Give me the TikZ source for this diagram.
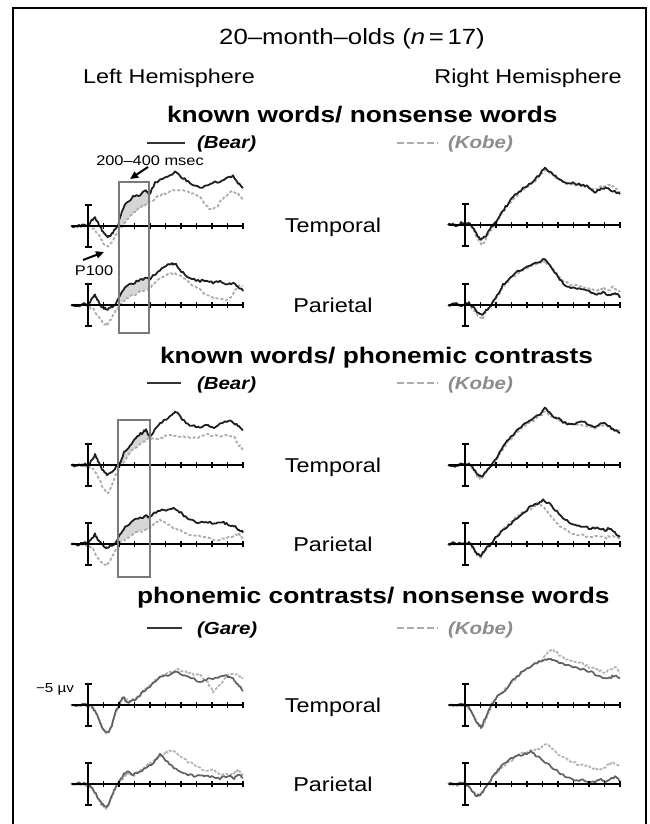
\documentclass[tikz,border=0pt]{standalone}
\usepackage{fontspec}
\setmainfont[FakeStretch=1.17]{Liberation Sans}
\usetikzlibrary{arrows.meta}
\pgfmathsetseed{4242}
\tikzset{
  blk/.style={draw=black!88,line width=1.8pt,line join=round},
  gdash/.style={draw=black!32,line width=1.8pt,line join=round,dash pattern=on 3pt off 2pt},
  gsolid/.style={draw=black!62,line width=1.7pt,line join=round},
  gdashb/.style={draw=black!30,line width=1.7pt,line join=round,dash pattern=on 3pt off 1.5pt},
  shadearea/.style={fill=black!16,draw=none},
  baseln/.style={draw=black,line width=2.2pt},
  tickm/.style={draw=black,line width=1.8pt},
  vbar/.style={draw=black,line width=2pt},
  winbox/.style={draw=black!52,line width=1.5pt},
  frame/.style={draw=black,line width=2pt},
  legsolid/.style={draw=black!80,line width=1.8pt},
  legdash/.style={draw=black!32,line width=1.8pt,dash pattern=on 7pt off 3pt},
  ptr/.style={draw=black,line width=2pt,-{Triangle[length=8pt,width=7pt]}},
  txt/.style={inner sep=0pt,outer sep=0pt},
}
\newcommand{\erpaxes}{%
  \draw[baseln] (-16,0) -- (155,0);
  \foreach \k in {1,...,10} \draw[tickm] ({15.5*\k},-2.8) -- ({15.5*\k},2.8);
  \draw[vbar] (0,-21) -- (0,21);
  \draw[vbar] (-3.5,-21) -- (3.5,-21) (-3.5,21) -- (3.5,21);
}
\newcommand{\erptrace}[2]{%
  \draw[#1] (-17,0)
    \foreach \ex/\ey [remember=\ex as \px (initially -17), remember=\ey as \py (initially 0)] in {#2} {
      \foreach \es in {0.25,0.5,0.75,1} { -- ({(\px)+((\ex)-(\px))*\es},{(\py)+((\ey)-(\py))*\es+1.2*rand}) }
    };
}
\begin{document}
\begin{tikzpicture}[x=1pt,y=-1pt]
\useasboundingbox (0,0) rectangle (649,824);
\fill[white] (0,0) rectangle (649,824);
\draw[frame] (13,824) -- (13,8) -- (646,8) -- (646,824);

% ---------- texts ----------
\node[txt,anchor=base] (title) at (352,45) {\fontsize{22}{26}\selectfont 20–month–olds (\textit{n}\,=\,17)};
\node[txt,anchor=base] (lefthem) at (169,84) {\fontsize{20}{24}\selectfont Left Hemisphere};
\node[txt,anchor=base] (righthem) at (528,84) {\fontsize{20}{24}\selectfont Right Hemisphere};

\node[txt,anchor=base west] (head1) at (167,122) {\fontsize{22.5}{26}\selectfont\bfseries known words/ nonsense words};
\node[txt,anchor=base west] (head2) at (160,363) {\fontsize{22.5}{26}\selectfont\bfseries known words/ phonemic contrasts};
\node[txt,anchor=base west] (head3) at (137,603) {\fontsize{22.5}{26}\selectfont\bfseries phonemic contrasts/ nonsense words};

% legends
\coordinate (la1) at (147,143); \coordinate (lb1) at (185,143);
\coordinate (da1) at (397,143); \coordinate (db1) at (438,143);
\draw[legsolid] (la1) -- (lb1);
\draw[legdash] (da1) -- (db1);
\node[txt,anchor=base west] (bear1) at (197,149) {\fontsize{17.5}{20}\selectfont\bfseries\itshape (Bear)};
\node[txt,anchor=base west,text=black!45] (kobe1) at (448,149) {\fontsize{17.5}{20}\selectfont\bfseries\itshape (Kobe)};

\coordinate (la2) at (147,383); \coordinate (lb2) at (181,383);
\coordinate (da2) at (397,383); \coordinate (db2) at (438,383);
\draw[legsolid] (la2) -- (lb2);
\draw[legdash] (da2) -- (db2);
\node[txt,anchor=base west] (bear2) at (197,389) {\fontsize{17.5}{20}\selectfont\bfseries\itshape (Bear)};
\node[txt,anchor=base west,text=black!45] (kobe2) at (448,389) {\fontsize{17.5}{20}\selectfont\bfseries\itshape (Kobe)};

\coordinate (la3) at (147,628); \coordinate (lb3) at (182,628);
\coordinate (da3) at (397,628); \coordinate (db3) at (438,628);
\draw[legsolid] (la3) -- (lb3);
\draw[legdash] (da3) -- (db3);
\node[txt,anchor=base west] (gare3) at (197,634) {\fontsize{17.5}{20}\selectfont\bfseries\itshape (Gare)};
\node[txt,anchor=base west,text=black!45] (kobe3) at (448,634) {\fontsize{17.5}{20}\selectfont\bfseries\itshape (Kobe)};

% region labels
\node[txt,anchor=base] (temp1) at (333,232) {\fontsize{20}{24}\selectfont Temporal};
\node[txt,anchor=base] (par1) at (333,312) {\fontsize{20}{24}\selectfont Parietal};
\node[txt,anchor=base] (temp2) at (333,472) {\fontsize{20}{24}\selectfont Temporal};
\node[txt,anchor=base] (par2) at (333,551) {\fontsize{20}{24}\selectfont Parietal};
\node[txt,anchor=base] (temp3) at (333,712) {\fontsize{20}{24}\selectfont Temporal};
\node[txt,anchor=base] (par3) at (333,791) {\fontsize{20}{24}\selectfont Parietal};

\node[txt,anchor=base] (msec) at (150,165) {\fontsize{14}{16}\selectfont 200–400 msec};
\node[txt,anchor=base] (p100) at (94,275) {\fontsize{14}{16}\selectfont P100};
\node[txt,anchor=base] (volt) at (55,692) {\fontsize{13}{15}\selectfont −5 µv};

% ================= Section 1 =================
\begin{scope}[shift={(88,226)}]
  \fill[shadearea] (31,1) -- (37,-21) -- (45,-29) -- (52,-31) -- (58,-36) -- (61,-31) -- (61,-23) -- (55,-20) -- (48,-15) -- (40,-8) -- (34,0) -- cycle;
  \erptrace{gdash}{-10/1, -5/1, 0/0, 5/2, 10/8, 15/17, 20/21, 24/15, 30/5, 34/0, 40/-8, 48/-15, 55/-20, 62/-24, 70/-30, 80/-34, 90/-36, 100/-34, 110/-30, 118/-22, 122/-16, 128/-18, 135/-28, 143/-35, 150/-32, 155/-27}
  \erptrace{blk}{-12/1, -6/-1, 0/0, 4/-6, 7/-9, 10/-3, 14/4, 18/9, 21/11, 25/6, 30/0, 33/-12, 37/-21, 45/-29, 52/-31, 58/-36, 61/-31, 67/-43, 77/-48, 87/-54, 95/-48, 102/-43, 112/-38, 122/-43, 132/-44, 140/-48, 145/-50, 150/-43, 155/-39}
  \erpaxes
\end{scope}
\begin{scope}[shift={(88,305)}]
  \fill[shadearea] (30,-5) -- (37,-18) -- (45,-22) -- (52,-25) -- (58,-27) -- (61,-26) -- (61,-17) -- (52,-13) -- (45,-10) -- (38,-6) -- (31,-1) -- cycle;
  \erptrace{gdash}{-5/0, 0/1, 5/4, 10/12, 15/18, 19/20, 23/14, 28/5, 32/0, 38/-6, 45/-10, 52/-13, 60/-16, 66/-22, 75/-28, 85/-32, 92/-30, 100/-23, 108/-18, 116/-12, 124/-8, 132/-6, 140/-5, 146/-12, 150/-20, 155/-18}
  \erptrace{blk}{-10/1, -4/-2, 0/0, 4/-6, 7/-10, 10/-4, 14/2, 18/4, 22/3, 27/0, 32/-10, 37/-18, 45/-22, 52/-25, 58/-27, 62/-26, 68/-32, 76/-38, 84/-42, 88/-40, 95/-32, 102/-27, 110/-24, 118/-25, 125/-22, 132/-24, 140/-21, 146/-22, 151/-17, 155/-14}
  \erpaxes
\end{scope}
\begin{scope}[shift={(465,225)}]
  \erptrace{gdash}{-12/-1, -8/1, -4/-1, 0/0, 4/-2, 8/4, 12/13, 16/20, 20/16, 25/6, 30/-1, 36/-10, 42/-18, 50/-28, 58/-35, 66/-41, 74/-48, 80/-56, 86/-52, 92/-46, 100/-42, 108/-40, 116/-40, 124/-38, 130/-35, 136/-38, 142/-40, 148/-38, 155/-33}
  \erptrace{blk}{-12/-1, -8/1, -4/-2, 0/0, 4/-3, 8/2, 12/10, 16/15, 20/12, 25/4, 30/-2, 36/-12, 42/-20, 50/-30, 58/-37, 66/-42, 74/-50, 80/-58, 86/-52, 92/-47, 100/-43, 108/-42, 116/-40, 124/-38, 130/-33, 136/-36, 142/-37, 148/-34, 155/-31}
  \erpaxes
\end{scope}
\begin{scope}[shift={(465,305)}]
  \erptrace{gdash}{-10/-1, -4/0, 0/0, 4/-1, 8/4, 13/10, 17/14, 21/7, 26/1, 32/-8, 38/-18, 45/-26, 55/-33, 65/-38, 75/-42, 80/-44, 86/-38, 93/-30, 100/-23, 108/-20, 116/-18, 124/-16, 132/-14, 138/-17, 144/-15, 148/-18, 155/-14}
  \erptrace{blk}{-10/-1, -4/0, 0/0, 4/-2, 8/2, 13/8, 17/10, 21/5, 26/0, 32/-10, 38/-20, 45/-28, 55/-35, 65/-40, 75/-44, 80/-46, 86/-38, 93/-28, 100/-20, 108/-17, 116/-16, 124/-14, 132/-10, 138/-13, 144/-9, 150/-12, 155/-8}
  \erpaxes
\end{scope}
\coordinate (w1a) at (119,182); \coordinate (w1b) at (149,333);
\draw[winbox] (w1a) rectangle (w1b);

% ================= Section 2 =================
\begin{scope}[shift={(88,465)}]
  \fill[shadearea] (31,0) -- (36,-12) -- (42,-20) -- (48,-28) -- (54,-32) -- (58,-35) -- (62,-28) -- (62,-27) -- (56,-24) -- (48,-18) -- (40,-10) -- (33,0) -- cycle;
  \erptrace{gdash}{-5/0, 0/1, 5/4, 10/12, 15/22, 20/28, 24/20, 30/5, 33/0, 40/-10, 48/-18, 56/-24, 62/-27, 70/-27, 80/-29, 90/-29, 100/-27, 110/-28, 120/-30, 130/-29, 140/-30, 146/-28, 151/-20, 155/-15}
  \erptrace{blk}{-12/1, -6/-1, 0/0, 4/-5, 7/-10, 10/-4, 14/4, 19/10, 23/8, 28/2, 31/0, 36/-12, 42/-20, 48/-28, 54/-32, 58/-35, 62/-28, 68/-38, 76/-45, 84/-50, 88/-53, 94/-46, 102/-40, 110/-38, 118/-40, 126/-38, 134/-42, 140/-44, 146/-42, 151/-38, 155/-34}
  \erpaxes
\end{scope}
\begin{scope}[shift={(88,544)}]
  \fill[shadearea] (30,-5) -- (37,-17) -- (45,-23) -- (52,-26) -- (58,-28) -- (62,-27) -- (62,-15) -- (52,-13) -- (45,-10) -- (38,-6) -- (31,-1) -- cycle;
  \erptrace{gdash}{-5/0, 0/2, 5/5, 10/14, 15/20, 19/22, 23/14, 28/5, 31/0, 38/-6, 45/-10, 52/-13, 60/-14, 66/-20, 72/-24, 80/-20, 90/-14, 100/-10, 110/-8, 120/-6, 130/-4, 138/-5, 146/-8, 151/-10, 155/-6}
  \erptrace{blk}{-10/1, -4/-2, 0/0, 4/-6, 7/-10, 10/-4, 14/1, 18/4, 22/2, 27/0, 32/-10, 37/-17, 45/-23, 52/-26, 58/-28, 62/-27, 68/-32, 76/-34, 84/-36, 90/-34, 96/-28, 102/-24, 110/-22, 118/-22, 126/-21, 134/-22, 140/-20, 146/-18, 151/-14, 155/-12}
  \erpaxes
\end{scope}
\begin{scope}[shift={(465,465)}]
  \erptrace{gdash}{-10/1, -4/0, 0/0, 4/-1, 8/4, 12/11, 16/14, 20/9, 25/2, 30/-3, 36/-13, 42/-22, 50/-30, 58/-38, 66/-43, 74/-48, 80/-53, 86/-49, 92/-46, 100/-42, 108/-41, 116/-40, 124/-39, 130/-37, 136/-40, 142/-39, 148/-36, 155/-34}
  \erptrace{blk}{-10/1, -4/-1, 0/0, 4/-2, 8/3, 12/9, 16/12, 20/8, 25/2, 30/-4, 36/-15, 42/-25, 50/-32, 58/-40, 66/-44, 74/-50, 80/-57, 86/-50, 92/-47, 100/-42, 108/-40, 116/-44, 124/-40, 130/-38, 136/-42, 142/-40, 148/-36, 155/-33}
  \erpaxes
\end{scope}
\begin{scope}[shift={(465,544)}]
  \erptrace{gdash}{-10/0, -4/0, 0/0, 4/-1, 8/4, 12/11, 16/13, 20/6, 26/0, 32/-8, 40/-17, 48/-24, 56/-30, 64/-34, 72/-40, 78/-38, 84/-30, 90/-22, 100/-14, 110/-10, 120/-8, 130/-8, 140/-6, 146/-8, 155/-5}
  \erptrace{blk}{-10/-1, -4/0, 0/0, 4/-2, 8/3, 12/10, 16/12, 20/6, 26/0, 32/-8, 40/-16, 48/-22, 56/-30, 64/-36, 72/-40, 78/-44, 85/-40, 92/-32, 100/-24, 108/-20, 116/-18, 124/-16, 132/-16, 140/-14, 146/-16, 151/-10, 155/-8}
  \erpaxes
\end{scope}
\coordinate (w2a) at (118,420); \coordinate (w2b) at (150,577);
\draw[winbox] (w2a) rectangle (w2b);

% ================= Section 3 =================
\begin{scope}[shift={(88,705)}]
  \erptrace{gdashb}{-8/0, 0/1, 5/3, 10/12, 14/22, 18/28, 22/24, 26/12, 30/3, 33/-4, 36/-8, 40/-4, 46/-5, 52/-10, 58/-16, 64/-22, 72/-28, 82/-33, 90/-36, 100/-32, 112/-30, 120/-22, 125/-13, 130/-18, 138/-28, 144/-32, 149/-31, 155/-26}
  \erptrace{gsolid}{-10/1, -4/-1, 0/0, 4/1, 8/8, 12/18, 16/26, 20/28, 24/20, 28/6, 32/-2, 35/-8, 38/-4, 42/-3, 48/-6, 55/-13, 62/-18, 72/-28, 80/-30, 90/-33, 100/-28, 112/-23, 120/-26, 130/-28, 138/-29, 145/-26, 150/-20, 155/-15}
  \erpaxes
\end{scope}
\begin{scope}[shift={(88,784)}]
  \erptrace{gdashb}{-8/0, 0/2, 5/5, 10/14, 14/22, 18/24, 22/18, 26/8, 30/0, 36/-7, 40/-10, 46/-9, 52/-14, 60/-20, 66/-24, 72/-28, 78/-32, 85/-33, 92/-28, 100/-22, 108/-18, 116/-14, 124/-15, 132/-10, 140/-9, 146/-11, 150/-15, 155/-8}
  \erptrace{gsolid}{-10/-1, -4/0, 0/1, 4/3, 8/10, 12/18, 16/22, 20/22, 24/12, 28/2, 32/-4, 36/-10, 40/-12, 45/-9, 52/-13, 60/-17, 66/-22, 72/-30, 78/-24, 84/-18, 92/-12, 100/-9, 108/-8, 116/-9, 124/-7, 132/-6, 140/-8, 146/-6, 151/-10, 155/-6}
  \erpaxes
\end{scope}
\begin{scope}[shift={(465,705)}]
  \erptrace{gdashb}{-8/1, 0/0, 6/5, 10/14, 14/20, 18/22, 22/12, 26/2, 30/-5, 36/-12, 44/-20, 52/-28, 60/-35, 68/-40, 76/-44, 82/-52, 88/-56, 94/-50, 100/-46, 108/-44, 116/-42, 124/-38, 132/-35, 140/-32, 146/-36, 151/-38, 155/-32}
  \erptrace{gsolid}{-10/0, -4/-1, 0/0, 4/2, 8/10, 12/18, 16/22, 20/14, 24/4, 28/-3, 34/-10, 40/-15, 48/-25, 56/-32, 64/-38, 72/-42, 80/-45, 86/-46, 92/-44, 100/-40, 108/-38, 116/-36, 124/-34, 132/-30, 140/-26, 146/-28, 151/-30, 155/-26}
  \erpaxes
\end{scope}
\begin{scope}[shift={(465,784)}]
  \erptrace{gdashb}{-8/1, 0/0, 6/5, 10/10, 14/12, 18/8, 22/2, 28/-8, 36/-16, 44/-22, 52/-28, 60/-32, 68/-34, 76/-36, 82/-40, 88/-34, 96/-28, 104/-24, 112/-20, 120/-18, 128/-16, 136/-15, 142/-18, 148/-22, 155/-18}
  \erptrace{gsolid}{-10/0, -4/-1, 0/0, 4/2, 8/8, 12/12, 16/10, 20/4, 24/-2, 30/-10, 36/-18, 44/-24, 52/-28, 60/-30, 66/-32, 72/-28, 80/-22, 88/-16, 96/-10, 104/-6, 112/-4, 120/-3, 128/-2, 136/-4, 142/-2, 148/-6, 151/-8, 155/-3}
  \erpaxes
\end{scope}

% ---------- pointer arrows ----------
\coordinate (msecfrom) at (148,167); \coordinate (msecto) at (130,179);
\draw[ptr] (msecfrom) -- (msecto);
\coordinate (pfrom) at (83,260); \coordinate (pto) at (104,252);
\draw[ptr] (pfrom) -- (pto);
\end{tikzpicture}
\end{document}
